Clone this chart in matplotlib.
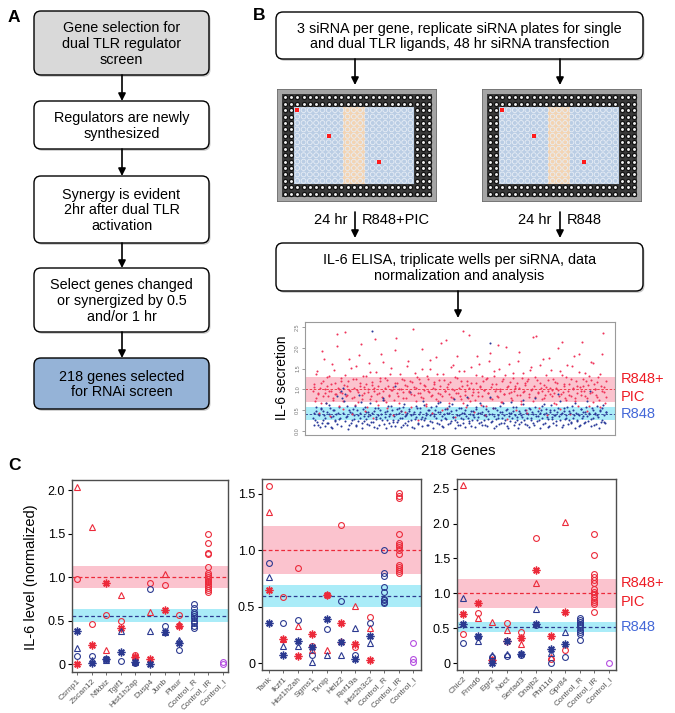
import numpy as np
import matplotlib
matplotlib.use('Agg')
import matplotlib.pyplot as plt
from matplotlib.patches import FancyBboxPatch, Rectangle

plt.rcParams['font.family'] = ['Liberation Sans', 'DejaVu Sans']

# ---------------- data ----------------
flow_a = ["Gene selection for\ndual TLR regulator\nscreen",
          "Regulators are newly\nsynthesized",
          "Synergy is evident\n2hr after dual TLR\nactivation",
          "Select genes changed\nor synergized by 0.5\nand/or 1 hr",
          "218 genes selected\nfor RNAi screen"]
flow_b_top = "3 siRNA per gene, replicate siRNA plates for single\nand dual TLR ligands, 48 hr siRNA transfection"
flow_b_mid = "IL-6 ELISA, triplicate wells per siRNA, data\nnormalization and analysis"

# screen scatter (B): IL-6 secretion per siRNA, by gene index
red1 = [0.95,1.12,0.78,1.45,0.88,1.02,0.66,1.21,1.74,0.91,
        1.08,0.83,1.33,0.97,1.60,0.74,1.15,0.89,2.05,1.01,
        0.93,1.27,0.71,1.10,2.38,0.86,1.19,0.99,1.52,0.80,
        1.04,0.62,1.24,0.94,1.83,1.07,0.77,1.31,0.90,1.13,
        0.58,1.00,1.41,0.85,1.17,0.96,2.21,0.73,1.09,0.92,
        1.28,0.81,1.66,1.03,0.69,1.22,0.87,1.36,0.98,1.05,
        0.75,1.94,1.14,0.84,1.01,0.47,1.26,0.93,1.11,0.79,
        1.57,0.95,1.20,0.88,2.44,1.06,0.72,1.30,0.90,1.16,
        0.82,1.48,0.99,1.09,0.65,1.25,0.94,1.70,0.86,1.02,
        1.18,0.76,1.38,0.91,1.07,2.12,0.83,1.23,0.97,0.54,
        1.13,0.89,1.54,1.00,0.78,1.29,0.92,1.79,1.04,0.85,
        1.21,0.68,1.43,0.96,1.10,0.80,2.30,1.15,0.87,1.01,
        0.74,1.35,0.93,1.62,1.08,0.84,1.19,0.99,0.61,1.27,
        0.90,1.88,1.05,0.77,1.32,0.95,1.12,0.82,1.50,1.00,
        0.70,1.24,0.88,2.01,1.06,0.92,1.17,0.79,1.40,0.97,
        1.09,0.86,1.68,1.03,0.73,1.28,0.94,1.14,0.51,1.20,
        0.89,1.46,0.98,2.26,1.07,0.81,1.22,0.93,1.58,1.02,
        0.76,1.11,0.87,1.34,0.96,1.76,1.04,0.84,1.25,0.91,
        0.64,1.16,0.99,1.44,0.88,2.15,1.08,0.78,1.30,0.95,
        1.13,0.83,1.55,1.01,0.71,1.19,0.92,1.86,1.05,0.86,
        1.26,0.97,1.39,0.80,1.10,0.59,1.23,0.94,1.64,1.00,
        0.87,1.18,0.75,1.37,0.96,2.36,1.06,0.82]
red2 = [1.05,0.72,1.38,0.90,0.44,1.16,1.92,0.83,1.01,0.67,
        1.29,0.95,0.36,1.12,0.79,1.47,0.88,2.33,1.03,0.61,
        1.20,0.92,0.53,1.34,0.85,1.09,1.72,0.97,0.41,1.24,
        0.81,1.56,0.99,0.70,1.15,2.09,0.87,1.06,0.48,1.31,
        0.93,1.63,0.76,1.11,0.30,1.02,1.42,0.89,0.63,1.19,
        1.85,0.96,0.74,1.27,0.55,1.08,0.84,1.51,0.98,0.38,
        1.14,2.24,0.91,0.68,1.36,1.00,0.80,1.22,0.45,1.07,
        1.67,0.94,0.57,1.18,0.86,1.40,1.04,0.25,1.26,0.90,
        1.97,0.78,1.10,0.60,1.33,0.97,1.49,0.83,0.42,1.13,
        1.01,1.78,0.73,1.23,0.88,0.50,1.37,0.95,2.18,1.06,
        0.66,1.17,0.82,1.59,0.99,0.34,1.28,0.92,1.45,0.77,
        1.09,2.41,0.87,0.58,1.21,1.02,0.71,1.54,0.94,0.46,
        1.15,1.81,0.85,1.05,0.62,1.32,0.98,0.39,1.25,0.90,
        1.69,0.79,1.12,0.54,1.43,1.00,0.84,2.07,0.96,0.69,
        1.20,0.88,1.35,0.28,1.08,1.60,0.93,0.75,1.27,1.03,
        0.49,1.16,1.90,0.86,0.64,1.39,0.97,1.11,0.43,1.24,
        0.82,1.53,1.01,0.72,1.30,2.28,0.91,0.56,1.14,0.95,
        1.73,0.80,1.06,0.37,1.22,0.89,1.47,0.98,0.67,1.18,
        1.04,1.99,0.83,0.52,1.35,0.94,1.12,0.74,1.58,0.87,
        0.40,1.26,1.02,1.80,0.78,1.09,0.60,1.41,0.96,2.14,
        1.07,0.85,1.19,0.47,1.32,0.92,1.65,0.70,1.13,1.00,
        0.81,1.29,0.57,1.08,1.84,0.93,0.68,1.21]
blue1 = [0.32,0.15,0.48,0.22,0.41,0.09,0.56,0.27,0.38,0.12,
         0.45,0.20,0.63,0.34,0.07,0.51,0.25,0.40,0.17,0.58,
         0.30,0.11,0.44,0.72,0.23,0.36,0.05,0.49,0.19,0.42,
         0.28,0.60,0.14,0.39,0.86,0.31,0.08,0.53,0.24,0.46,
         0.16,0.35,0.67,0.21,0.43,0.10,0.55,0.29,0.37,0.13,
         0.50,0.26,0.78,0.33,0.06,0.47,0.18,0.40,0.61,0.22,
         0.36,0.12,0.52,0.27,0.44,0.09,0.31,0.57,0.20,0.39,
         0.15,0.48,0.93,0.25,0.41,0.07,0.34,0.54,0.17,0.45,
         0.28,0.11,0.62,0.32,0.38,0.14,0.50,0.23,0.43,0.08,
         0.35,0.59,0.19,0.46,0.70,0.26,0.12,0.40,0.30,0.53,
         0.16,0.42,0.24,0.65,0.33,0.06,0.49,0.21,0.37,0.13,
         0.56,0.28,0.44,0.10,0.81,0.31,0.18,0.47,0.25,0.39,
         0.09,0.52,0.34,0.20,0.43,0.15,0.60,0.27,0.36,0.11,
         0.48,2.12,0.22,0.41,0.07,0.55,0.29,0.38,0.16,0.45,
         0.32,0.68,0.19,0.50,0.12,0.35,0.24,0.42,0.58,0.14,
         0.39,0.27,0.08,0.47,0.21,0.33,0.75,0.17,0.44,0.30,
         0.10,0.53,0.26,0.40,0.15,0.57,0.23,0.36,0.06,0.49,
         0.31,0.64,0.18,0.43,0.28,0.11,0.51,0.34,0.20,0.38,
         0.13,0.46,0.89,0.25,0.41,0.09,0.54,0.29,0.37,0.16,
         0.48,0.22,0.60,0.32,0.07,0.44,0.27,0.39,0.14,0.52,
         0.35,0.19,0.46,0.71,0.24,0.40,0.12,0.56,0.30,0.42,
         0.17,0.37,0.08,0.49,0.26,0.63,0.21,0.45]
blue2 = [0.44,0.26,0.58,0.13,0.37,0.52,0.20,0.47,0.31,0.66,
         0.18,0.40,0.55,0.09,0.35,0.49,0.23,0.84,0.42,0.29,
         0.95,0.78,1.02,0.88,0.34,0.61,0.15,0.45,0.27,0.53,
         0.38,0.11,0.50,0.24,0.43,0.69,0.19,0.36,0.57,0.28,
         0.46,0.14,0.39,2.40,0.22,0.48,0.33,0.07,0.54,0.30,
         0.41,0.74,0.17,0.45,0.25,0.59,0.36,0.12,0.50,0.27,
         1.08,0.40,0.21,0.56,0.32,0.47,0.15,0.64,0.35,0.43,
         0.24,0.52,0.38,0.10,0.46,0.29,0.60,0.19,0.41,0.55,
         0.33,0.72,0.26,0.44,0.13,0.49,0.37,0.58,0.22,0.40,
         0.51,0.30,0.67,0.16,0.45,0.35,0.09,0.53,0.28,0.42,
         0.60,0.20,0.47,0.34,0.76,0.25,0.39,0.14,0.56,0.31,
         0.44,0.18,0.50,0.36,0.63,0.23,0.41,0.11,0.48,0.33,
         0.57,0.27,0.43,0.68,0.21,0.46,0.38,0.15,0.52,0.29,
         0.40,0.82,0.24,0.55,0.35,0.12,0.49,0.32,0.61,0.19,
         0.45,0.37,0.26,0.53,0.08,0.42,0.70,0.30,0.47,0.22,
         0.58,0.34,0.16,0.44,0.39,0.65,0.27,0.50,0.13,0.41,
         0.54,0.31,0.46,0.20,0.79,0.36,0.48,0.25,0.43,0.59,
         0.17,0.40,0.52,0.33,0.10,0.45,0.62,0.28,0.49,0.38,
         0.23,0.55,0.35,0.73,0.42,0.14,0.47,0.30,0.57,0.26,
         0.44,0.19,0.51,0.37,0.66,0.24,0.40,0.11,0.53,0.32,
         0.46,0.21,0.58,0.36,0.43,0.97,0.28,0.50,0.15,0.41,
         0.60,0.34,0.47,0.22,0.54,0.39,0.18,0.45]
b_red_band, b_red_mean = (0.69, 1.29), 1.0
b_blue_band, b_blue_mean = (0.26, 0.58), 0.40
b_yticks = [0.0, 0.5, 1.0, 1.5, 2.0, 2.5]

# panel C, per gene: red = R848+PIC, blue = R848; three siRNAs (triangle, circle, asterisk)
ctrl_names = ['Control_R', 'Control_IR', 'Control_I']

genes_1 = ['Csrnp1', 'Zscan12', 'Nfkbiz', 'Tgif1', 'Hist1h2ap', 'Dusp4', 'Junb', 'Plaur']
red_tri_1 = [2.03, 1.57, 0.16, 0.79, 0.09, 0.60, 1.03, 0.46]
red_cir_1 = [0.98, 0.46, 0.57, 0.49, 0.10, 0.93, 0.91, 0.57]
red_ast_1 = [0.00, 0.22, 0.93, 0.41, 0.08, 0.065, 0.62, 0.44]
blu_tri_1 = [0.18, 0.05, 0.05, 0.38, 0.03, 0.38, 0.37, 0.28]
blu_cir_1 = [0.09, 0.09, 0.06, 0.035, 0.01, 0.86, 0.44, 0.16]
blu_ast_1 = [0.38, 0.015, 0.06, 0.14, 0.02, 0.00, 0.37, 0.24]
ctrl_R_1 = [0.69, 0.64, 0.60, 0.575, 0.55, 0.525, 0.50, 0.47, 0.44, 0.41]
ctrl_IR_1 = [1.49, 1.39, 1.28, 1.26, 1.12, 1.05, 1.02, 1.00, 0.98, 0.96, 0.94, 0.92, 0.90, 0.87, 0.85, 0.83]
ctrl_I_1 = [0.00, 0.02]
red_band_1, red_mean_1 = (0.875, 1.125), 1.0
blu_band_1, blu_mean_1 = (0.485, 0.63), 0.555

genes_2 = ['Tank', 'Ikzf1', 'Hist1h2ah', 'Sgms1', 'Txnip', 'Helz2', 'Rnf19a', 'Hist2h3c2']
red_tri_2 = [1.34, 0.21, 0.33, 0.12, 0.12, 0.20, 0.51, 0.31]
red_cir_2 = [1.57, 0.59, 0.84, 0.15, 0.60, 1.22, 0.14, 0.41]
red_ast_2 = [0.645, 0.21, 0.065, 0.26, 0.60, 0.355, 0.17, 0.025]
blu_tri_2 = [0.76, 0.15, 0.155, 0.01, 0.07, 0.07, 0.31, 0.18]
blu_cir_2 = [0.89, 0.36, 0.38, 0.07, 0.30, 0.55, 0.075, 0.36]
blu_ast_2 = [0.36, 0.07, 0.20, 0.14, 0.39, 0.19, 0.035, 0.245]
ctrl_R_2 = [1.00, 0.80, 0.77, 0.67, 0.63, 0.57, 0.555, 0.54, 0.53]
ctrl_IR_2 = [1.51, 1.48, 1.46, 1.14, 1.06, 1.05, 1.03, 1.00, 0.97, 0.87, 0.85, 0.83, 0.82, 0.80]
ctrl_I_2 = [0.18, 0.035, 0.01]
red_band_2, red_mean_2 = (0.79, 1.21), 1.0
blu_band_2, blu_mean_2 = (0.50, 0.69), 0.595

genes_3 = ['Chic2', 'Frmd6', 'Egr2', 'Noct', 'Sertad3', 'Dnajb2', 'Phf11d', 'Gpr84']
red_tri_3 = [2.55, 0.64, 0.59, 0.47, 0.28, 1.15, 0.09, 2.02]
red_cir_3 = [0.41, 0.72, 0.05, 0.58, 0.45, 1.80, 0.06, 0.19]
red_ast_3 = [0.71, 0.86, 0.04, 0.32, 0.365, 1.33, 0.39, 0.73]
blu_tri_3 = [0.94, 0.32, 0.11, 0.125, 0.14, 0.78, 0.15, 0.45]
blu_cir_3 = [0.29, 0.37, 0.09, 0.10, 0.11, 0.55, 0.00, 0.08]
blu_ast_3 = [0.56, 0.39, 0.00, 0.32, 0.135, 0.56, 0.20, 0.27]
ctrl_R_3 = [0.65, 0.62, 0.59, 0.56, 0.54, 0.51, 0.48, 0.45, 0.41, 0.33]
ctrl_IR_3 = [1.85, 1.55, 1.28, 1.24, 1.19, 1.15, 1.06, 1.02, 0.99, 0.95, 0.91, 0.88, 0.84, 0.73]
ctrl_I_3 = [0.00]
red_band_3, red_mean_3 = (0.79, 1.21), 1.0
blu_band_3, blu_mean_3 = (0.445, 0.59), 0.52

# ---------------- style ----------------
RED = '#ec2a3a'
BLUE = '#2b3990'
PURPLE = '#b44ee0'
PINK = '#fbc3ce'
CYAN = '#aaecf8'
TXT_RED = '#ee1c25'
TXT_BLUE = '#4468d8'

W, H = 675, 713
fig = plt.figure(figsize=(W / 100, H / 100), dpi=100)


def rect(x0, y0, x1, y1):
    return [x0 / W, 1 - y1 / H, (x1 - x0) / W, (y1 - y0) / H]


ov = fig.add_axes([0, 0, 1, 1])
ov.set_xlim(0, W)
ov.set_ylim(H, 0)
ov.axis('off')


def box(x0, y0, x1, y1, text, fc='white', fs=10.4):
    sh = FancyBboxPatch((x0 + 1.5, y0 + 1.8), x1 - x0, y1 - y0,
                        boxstyle='round,pad=0,rounding_size=7',
                        fc='#c8c8c8', ec='none', zorder=1)
    ov.add_patch(sh)
    p = FancyBboxPatch((x0, y0), x1 - x0, y1 - y0,
                       boxstyle='round,pad=0,rounding_size=7',
                       fc=fc, ec='black', lw=1.0, zorder=2)
    ov.add_patch(p)
    ov.text((x0 + x1) / 2, (y0 + y1) / 2 + 1.0, text, ha='center', va='center',
            fontsize=fs, linespacing=1.18, zorder=3)


def arrow(x, y0, y1):
    ov.annotate('', xy=(x, y1), xytext=(x, y0),
                arrowprops=dict(arrowstyle='-|>', color='black', lw=1.2,
                                mutation_scale=11, shrinkA=0, shrinkB=0), zorder=3)


# ---------- panel A ----------
ov.text(8, 18, 'A', fontsize=12.5, fontweight='bold', ha='left', va='center')
a_boxes = [(11, 75), (101, 149), (176, 243), (268, 332), (358, 409)]
a_fc = ['#d9d9d9', 'white', 'white', 'white', '#95b3d7']
for (y0, y1), t, fc in zip(a_boxes, flow_a, a_fc):
    box(34, y0, 209, y1, t, fc=fc)
for i in range(len(a_boxes) - 1):
    arrow(122, a_boxes[i][1], a_boxes[i + 1][0])

# ---------- panel B ----------
ov.text(253, 16, 'B', fontsize=12.5, fontweight='bold', ha='left', va='center')
box(276, 12, 643, 59, flow_b_top)
arrow(355, 59, 85)
arrow(560, 59, 85)
box(276, 243, 643, 291, flow_b_mid)
arrow(355, 212, 238)
arrow(560, 212, 238)
ov.text(347, 220, '24 hr', ha='right', va='center', fontsize=10.5)
ov.text(362, 220, 'R848+PIC', ha='left', va='center', fontsize=10.5)
ov.text(551, 220, '24 hr', ha='right', va='center', fontsize=10.5)
ov.text(567, 220, 'R848', ha='left', va='center', fontsize=10.5)
arrow(458, 291, 318)


def plate(x0, y0, x1, y1):
    ax = fig.add_axes(rect(x0, y0, x1, y1))
    ax.set_xlim(-1.22, 24.22)
    ax.set_ylim(16.28, -1.28)
    ax.axis('off')
    ax.add_patch(Rectangle((-1.22, -1.28), 25.44, 17.56, fc='#a5a5a5', ec='#6f6f6f', lw=1.2))
    ax.add_patch(Rectangle((-0.5, -0.5), 24.0, 16.0, fc='#3a3a3a', ec='none', zorder=1))
    ax.add_patch(Rectangle((1.5, 1.5), 19.0, 12.0, fc='#bacde4', ec='none', zorder=2))
    ax.add_patch(Rectangle((9.3, 1.5), 3.5, 12.0, fc='#f3d4b3', ec='none', zorder=2))
    cols, rows = np.meshgrid(np.arange(24), np.arange(16))
    cols = cols.ravel()
    rows = rows.ravel()
    inner = (cols >= 2) & (cols <= 20) & (rows >= 2) & (rows <= 13)
    ax.scatter(cols[~inner], rows[~inner], s=9, facecolor='#f0f0f0', edgecolor='#111111',
               linewidths=0.9, zorder=3)
    ax.scatter(cols[inner], rows[inner], s=12, facecolor='none', edgecolor='#e8eef6',
               linewidths=0.6, zorder=3)
    ax.scatter([2, 7, 15], [2, 6, 10], s=7, marker='s', color='#ff1a1a', zorder=4, linewidths=0)


plate(277, 89, 437, 202)
plate(482, 89, 642, 202)

# screen scatter
axb = fig.add_axes(rect(305, 322, 615, 435))
axb.set_facecolor('none')
axb.axhspan(*b_red_band, color=PINK, lw=0, zorder=0)
axb.axhspan(*b_blue_band, color=CYAN, lw=0, zorder=0)
axb.axhline(b_red_mean, color=RED, ls=(0, (3, 2)), lw=0.6, zorder=1)
axb.axhline(b_blue_mean, color=BLUE, ls=(0, (3, 2)), lw=0.6, zorder=1)
xr1 = np.arange(1, len(red1) + 1)
xr2 = np.arange(1, len(red2) + 1)
xb1 = np.arange(1, len(blue1) + 1)
xb2 = np.arange(1, len(blue2) + 1)
axb.scatter(xr1, red1, s=2.2, color='#f0345a', linewidths=0, zorder=2)
axb.scatter(xb1, blue1, s=2.2, color='#2a3a9a', linewidths=0, zorder=2)
axb.scatter(xr2 + 0.5, red2, s=2.2, color='#f0345a', linewidths=0, zorder=2)
axb.scatter(xb2 + 0.5, blue2, s=2.2, color='#2a3a9a', linewidths=0, zorder=2)
axb.set_xlim(-5, 225)
axb.set_ylim(-0.1, 2.62)
axb.set_xticks([])
axb.set_yticks(b_yticks)
axb.set_yticklabels(['%.1f' % v for v in b_yticks], rotation=90, va='center')
axb.tick_params(axis='y', labelsize=4, colors='#777777', length=2, width=0.5, pad=1.5)
for s in axb.spines.values():
    s.set_color('#9a9a9a')
    s.set_linewidth(0.8)
ov.text(282, 378, 'IL-6 secretion', rotation=90, ha='center', va='center', fontsize=10)
ov.text(458, 451, '218 Genes', ha='center', va='center', fontsize=11)
ov.text(621, 379, 'R848+', color=TXT_RED, ha='left', va='center', fontsize=10.5)
ov.text(621, 397, 'PIC', color=TXT_RED, ha='left', va='center', fontsize=10.5)
ov.text(621, 414, 'R848', color=TXT_BLUE, ha='left', va='center', fontsize=10.5)

# ---------- panel C ----------
ov.text(8, 465, 'C', fontsize=12.5, fontweight='bold', ha='left', va='center')

AST = (8, 2, 0)


def panel(box_px, xlim, ylim, yticks, genes, rt, rc, ra, bt, bc, ba, cR, cIR, cI,
          rband, rmean, bband, bmean):
    ax = fig.add_axes(rect(*box_px))
    ax.set_facecolor('none')
    ax.axhspan(*rband, color=PINK, lw=0, zorder=0)
    ax.axhspan(*bband, color=CYAN, lw=0, zorder=0)
    ax.axhline(rmean, color=RED, ls=(0, (3, 2)), lw=0.9, zorder=1)
    ax.axhline(bmean, color=BLUE, ls=(0, (3, 2)), lw=0.9, zorder=1)
    n = len(genes)
    x = np.arange(1, n + 1)
    kw = dict(ls='none', zorder=3)
    ax.plot(x, rt, '^', mfc='none', mec=RED, ms=4.6, mew=0.8, **kw)
    ax.plot(x, rc, 'o', mfc='none', mec=RED, ms=4.2, mew=0.8, **kw)
    ax.plot(x, ra, marker=AST, color=RED, ms=5.6, mew=1.0, **kw)
    ax.plot(x, bt, '^', mfc='none', mec=BLUE, ms=4.6, mew=0.8, **kw)
    ax.plot(x, bc, 'o', mfc='none', mec=BLUE, ms=4.2, mew=0.8, **kw)
    ax.plot(x, ba, marker=AST, color=BLUE, ms=5.6, mew=1.0, **kw)
    ax.plot(np.full(len(cR), n + 1), cR, 'o', mfc='none', mec=BLUE, ms=4.2, mew=0.8, **kw)
    ax.plot(np.full(len(cIR), n + 2), cIR, 'o', mfc='none', mec=RED, ms=4.2, mew=0.8, **kw)
    ax.plot(np.full(len(cI), n + 3), cI, 'o', mfc='none', mec=PURPLE, ms=4.2, mew=0.8, **kw)
    ax.set_xlim(*xlim)
    ax.set_ylim(*ylim)
    ax.set_xticks(np.arange(1, n + 4))
    ax.set_xticklabels(genes + ctrl_names, rotation=45, ha='right',
                       rotation_mode='anchor', fontsize=6, color='#555555')
    ax.set_yticks(yticks)
    ax.set_yticklabels(['0' if v == 0 else '%.1f' % v for v in yticks], fontsize=9)
    ax.tick_params(axis='x', length=2, width=0.6, pad=2, colors='#555555')
    ax.tick_params(axis='y', length=3, width=0.8, pad=2)
    for s in ax.spines.values():
        s.set_color('#4d4d4d')
        s.set_linewidth(1.0)
    return ax


panel((72, 480, 228, 672), (0.66, 11.34), (-0.09, 2.115), [0, 0.5, 1.0, 1.5, 2.0],
      genes_1, red_tri_1, red_cir_1, red_ast_1, blu_tri_1, blu_cir_1, blu_ast_1,
      ctrl_R_1, ctrl_IR_1, ctrl_I_1, red_band_1, red_mean_1, blu_band_1, blu_mean_1)
panel((262, 479, 421, 670), (0.51, 11.55), (-0.06, 1.63), [0, 0.5, 1.0, 1.5],
      genes_2, red_tri_2, red_cir_2, red_ast_2, blu_tri_2, blu_cir_2, blu_ast_2,
      ctrl_R_2, ctrl_IR_2, ctrl_I_2, red_band_2, red_mean_2, blu_band_2, blu_mean_2)
panel((457, 479, 616, 670), (0.59, 11.48), (-0.10, 2.64), [0, 0.5, 1.0, 1.5, 2.0, 2.5],
      genes_3, red_tri_3, red_cir_3, red_ast_3, blu_tri_3, blu_cir_3, blu_ast_3,
      ctrl_R_3, ctrl_IR_3, ctrl_I_3, red_band_3, red_mean_3, blu_band_3, blu_mean_3)

ov.text(31, 577, 'IL-6 level (normalized)', rotation=90, ha='center', va='center', fontsize=10.5)
ov.text(621, 583, 'R848+', color=TXT_RED, ha='left', va='center', fontsize=10.5)
ov.text(621, 602, 'PIC', color=TXT_RED, ha='left', va='center', fontsize=10.5)
ov.text(621, 627, 'R848', color=TXT_BLUE, ha='left', va='center', fontsize=10.5)

fig.savefig('out.png', dpi=100)
